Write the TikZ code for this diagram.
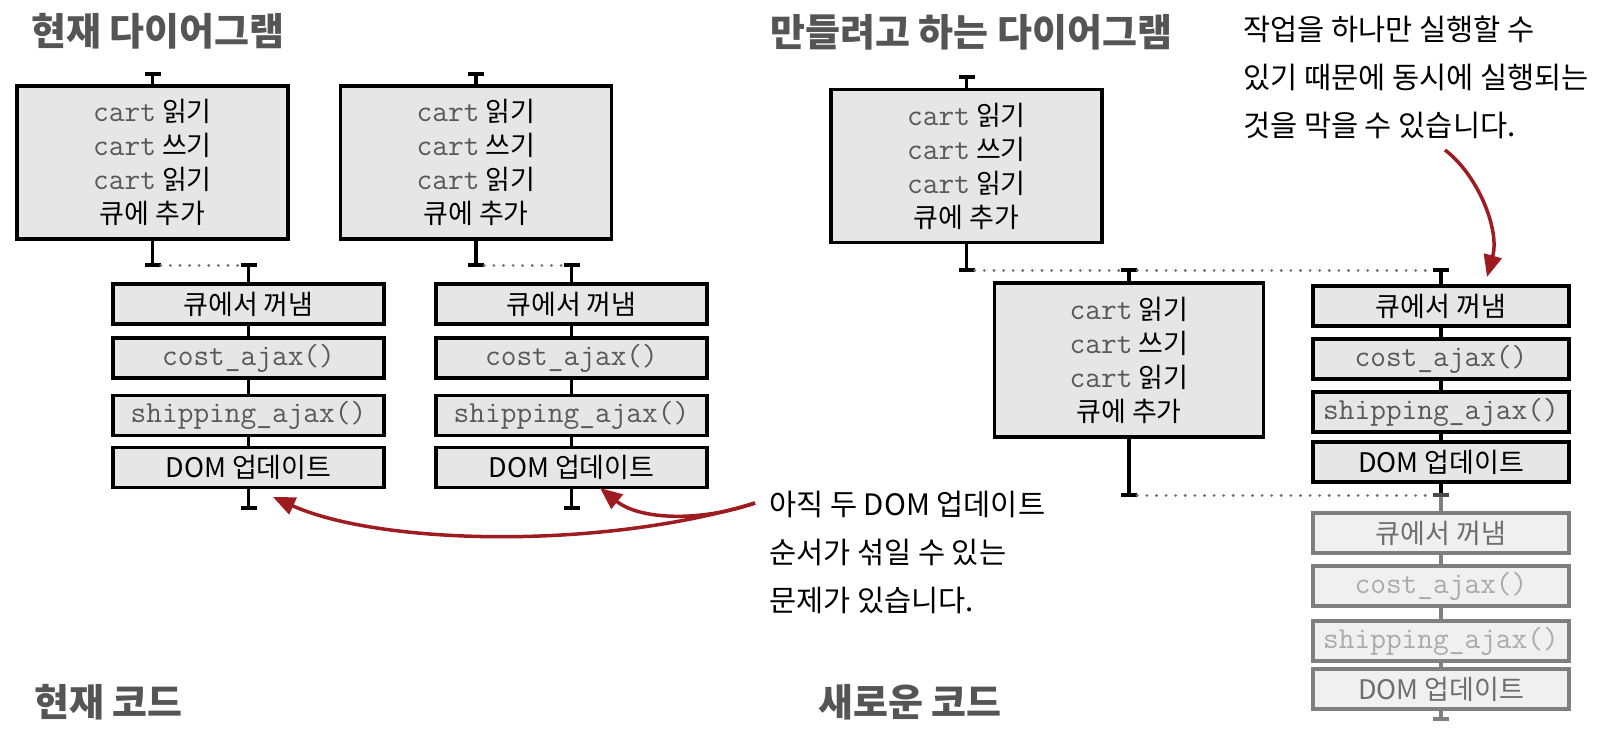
\documentclass[tikz,border=0pt]{standalone}
\usepackage{fontspec}
\setmainfont{Noto Sans CJK KR}
\usepackage{tikz}
\usetikzlibrary{arrows.meta}
\usetikzlibrary{calc}

\definecolor{boxfill}{HTML}{E6E6E6}
\definecolor{codegray}{HTML}{595959}
\definecolor{titlegray}{HTML}{555555}
\definecolor{dotgray}{HTML}{707070}
\definecolor{hintred}{HTML}{9E1B1F}
\definecolor{fadeline}{HTML}{7F7F7F}
\definecolor{fadefill}{HTML}{F0F0F0}
\definecolor{fadetext}{HTML}{6E6E6E}
\definecolor{fadecode}{HTML}{ABABAB}
\definecolor{fadebar}{HTML}{4A4A4A}

\newcommand{\codetext}[1]{{\ttfamily\fontsize{30.5}{34}\selectfont\color{codegray}#1}}

\begin{document}
\begin{tikzpicture}[x=1pt, y=-1pt,
    task style/.style={rectangle, draw, line width=3.2pt, fill=boxfill, minimum width=271pt, minimum height=40pt, inner sep=0pt, font=\fontsize{27}{34}\selectfont},
    run style/.style={task style, minimum height=153pt, align=center},
    queue style/.style={task style, minimum width=256pt},
    fade style/.style={queue style, draw=fadeline, fill=fadefill, text=fadetext, execute at begin node={\colorlet{codegray}{fadecode}}},
    bar style/.style={rectangle, fill=black, minimum width=16pt, minimum height=4pt, inner sep=0pt},
    link style/.style={line width=3.2pt},
    wait style/.style={draw=dotgray, line width=3pt, line cap=round, dash pattern=on 0.1pt off 9.5pt},
    note style/.style={anchor=west, align=left, inner sep=0pt, font=\fontsize{29.5}{48}\selectfont},
    title style/.style={anchor=west, inner sep=0pt, text=titlegray, font=\bfseries\fontsize{38}{42}\selectfont},
    hint style/.style={draw=hintred, line width=3.5pt, -{Triangle[length=22pt, width=18pt]}}
]
\useasboundingbox (0,0) rectangle (1618,740);

% titles
\node[title style] (curtitle) at (31,31) {현재 다이어그램};
\node[title style] (newtitle) at (770,32) {만들려고 하는 다이어그램};
\node[title style] (curcode) at (34,702) {현재 코드};
\node[title style] (newcode) at (818,702) {새로운 코드};

% current diagram, first click
\node[bar style] (curAtop) at (152.5,74) {};
\node[run style] (curA) at (152.5,162.5) {\codetext{cart} 읽기\\\codetext{cart} 쓰기\\\codetext{cart} 읽기\\큐에 추가};
\node[bar style] (curAend) at (152.5,265) {};
\node[bar style] (curBtop) at (248.5,265) {};
\node[task style] (curB1) at (248.5,304) {큐에서 꺼냄};
\node[task style] (curB2) at (248.5,358) {\codetext{cost\_ajax()}};
\node[task style] (curB3) at (248.5,415.5) {\codetext{shipping\_ajax()}};
\node[task style] (curB4) at (248.5,467.5) {DOM 업데이트};
\node[bar style] (curBend) at (248.5,508) {};

% current diagram, second click
\node[bar style] (curCtop) at (476,74) {};
\node[run style] (curC) at (476,162.5) {\codetext{cart} 읽기\\\codetext{cart} 쓰기\\\codetext{cart} 읽기\\큐에 추가};
\node[bar style] (curCend) at (476,265) {};
\node[bar style] (curDtop) at (571.5,265) {};
\node[task style] (curD1) at (571.5,304) {큐에서 꺼냄};
\node[task style] (curD2) at (571.5,358) {\codetext{cost\_ajax()}};
\node[task style] (curD3) at (571.5,415.5) {\codetext{shipping\_ajax()}};
\node[task style] (curD4) at (571.5,467.5) {DOM 업데이트};
\node[bar style] (curDend) at (571.5,508) {};

\draw[link style] (curAtop) -- (curA) (curA) -- (curAend);
\draw[wait style] (curAend) -- (curBtop);
\draw[link style] (curBtop) -- (curB1) (curB1) -- (curB2) (curB2) -- (curB3) (curB3) -- (curB4) (curB4) -- (curBend);
\draw[link style] (curCtop) -- (curC) (curC) -- (curCend);
\draw[wait style] (curCend) -- (curDtop);
\draw[link style] (curDtop) -- (curD1) (curD1) -- (curD2) (curD2) -- (curD3) (curD3) -- (curD4) (curD4) -- (curDend);

% new diagram
\node[bar style] (newAtop) at (966.5,77) {};
\node[run style] (newA) at (966.5,166) {\codetext{cart} 읽기\\\codetext{cart} 쓰기\\\codetext{cart} 읽기\\큐에 추가};
\node[bar style] (newAend) at (966.5,270) {};
\node[bar style] (newBtop) at (1129,270) {};
\node[run style, minimum width=269pt, minimum height=154pt] (newB) at (1129,360) {\codetext{cart} 읽기\\\codetext{cart} 쓰기\\\codetext{cart} 읽기\\큐에 추가};
\node[bar style] (newBend) at (1129,495) {};
\node[bar style] (newCtop) at (1441,270) {};
\node[queue style] (newC1) at (1441,306) {큐에서 꺼냄};
\node[queue style] (newC2) at (1441,359) {\codetext{cost\_ajax()}};
\node[queue style] (newC3) at (1441,412) {\codetext{shipping\_ajax()}};
\node[queue style] (newC4) at (1441,462) {DOM 업데이트};
\node[bar style, fill=fadebar] (newDtop) at (1441,495) {};
\node[fade style] (newD1) at (1441,533) {큐에서 꺼냄};
\node[fade style] (newD2) at (1441,586) {\codetext{cost\_ajax()}};
\node[fade style] (newD3) at (1441,641) {\codetext{shipping\_ajax()}};
\node[fade style] (newD4) at (1441,689) {DOM 업데이트};
\node[bar style, fill=fadeline] (newDend) at (1441,719) {};

\draw[link style] (newAtop) -- (newA) (newA) -- (newAend);
\draw[wait style] (newAend) -- (newBtop) -- (newCtop);
\draw[link style] (newBtop) -- (newB) (newB) -- (newBend);
\draw[link style] (newCtop) -- (newC1) (newC1) -- (newC2) (newC2) -- (newC3) (newC3) -- (newC4) (newC4) -- (newDtop);
\draw[wait style] (newBend) -- (newDtop);
\draw[link style, draw=fadeline] (newDtop) -- (newD1) (newD1) -- (newD2) (newD2) -- (newD3) (newD3) -- (newD4) (newD4) -- (newDend);

% notes
\node[note style] (onlyone) at (1243,77) {작업을 하나만 실행할 수\\있기 때문에 동시에 실행되는\\것을 막을 수 있습니다.};
\node[note style] (mixorder) at (769,552) {아직 두 DOM 업데이트\\순서가 섞일 수 있는\\문제가 있습니다.};

\coordinate (onlyfrom) at (1445,150);
\coordinate (onlyto) at (1487,277);
\coordinate (mixfrom) at (755,503);
\coordinate (mixleft) at (273,497);
\coordinate (mixright) at (600,488);
\draw[hint style] (onlyfrom) .. controls (1478,175) and (1500,230) .. (onlyto);
\draw[hint style] (mixfrom) .. controls (600,550) and (380,545) .. (mixleft);
\draw[hint style] (mixfrom) .. controls (700,522) and (640,520) .. (mixright);
\end{tikzpicture}
\end{document}
